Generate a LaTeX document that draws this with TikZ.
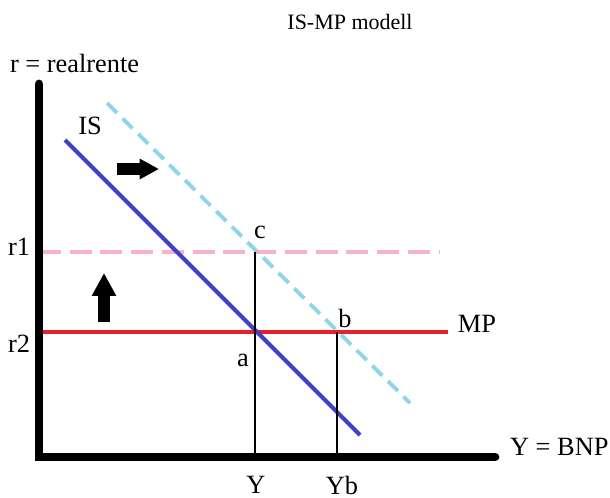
\documentclass[tikz,border=0pt]{standalone}
\usepackage{fontspec}
\setmainfont{Liberation Serif}
\usetikzlibrary{arrows.meta}
\definecolor{IScurve}{HTML}{4040C4}
\definecolor{ISnew}{HTML}{90D4E8}
\definecolor{MPline}{HTML}{E8202C}
\definecolor{MPnew}{HTML}{F8B0CC}

\begin{document}
\begin{tikzpicture}[x=0.02cm, y=-0.02cm,
    every node/.style={font=\fontsize{15}{17}\selectfont, inner sep=1pt},
    axis/.style={line width=5pt, line cap=round},
    guide/.style={line width=0.6pt},
    shiftarrow/.style={line width=6.4pt, -{Triangle[length=11pt, width=11pt]}}]
  \useasboundingbox (0,0) rectangle (610,498);
  % points
  \coordinate (o) at (39,457);
  \coordinate (ytop) at (39,84);
  \coordinate (xend) at (495,457);
  \coordinate (is1) at (65,140);   \coordinate (is2) at (360,435);
  \coordinate (isb1) at (107,103); \coordinate (isb2) at (410,403);
  \coordinate (r1l) at (39,252);   \coordinate (r1r) at (440,252);
  \coordinate (r2l) at (39,332);   \coordinate (r2r) at (448,332);
  \coordinate (pa) at (255,332);   \coordinate (pc) at (255,252);
  \coordinate (pb) at (337,332);
  \coordinate (ya) at (255,457);   \coordinate (yb) at (337,457);
  % curves
  \draw[MPnew, line width=2.2pt, dash pattern=on 12.5pt off 5pt] (r1l) -- (r1r);
  \draw[ISnew, line width=2.2pt, dash pattern=on 8pt off 4.5pt] (isb1) -- (isb2);
  \draw[MPline, line width=2.4pt] (r2l) -- (r2r);
  \draw[IScurve, line width=2.4pt] (is1) -- (is2);
  \draw[guide] (pc) -- (ya);
  \draw[guide] (pb) -- (yb);
  \draw[axis] (ytop) -- (o) -- (xend);
  % shift arrows
  \coordinate (ra1) at (117,169); \coordinate (ra2) at (159,169);
  \coordinate (ua1) at (104,322); \coordinate (ua2) at (104,273);
  \draw[shiftarrow] (ra1) -- (ra2);
  \draw[shiftarrow, line width=6.8pt, -{Triangle[length=13pt, width=13pt]}] (ua1) -- (ua2);
  % labels
  \node (title) at (350,22) {\fontsize{12.5}{14}\selectfont IS-MP modell};
  \node[anchor=west] (rlab) at (8,63) {r = realrente};
  \node[anchor=west] (ylab) at (508,447) {Y = BNP};
  \node (islab) at (90,126) {IS};
  \node (mplab) at (477,324) {MP};
  \node (r1) at (19,247) {r1};
  \node (r2) at (19,344) {r2};
  \node (clab) at (260,232) {c};
  \node (blab) at (345,318) {b};
  \node (alab) at (243,360) {a};
  \node[inner sep=0pt] (ylab1) at (256,485) {Y};
  \node[inner sep=0pt] (ylab2) at (342,485) {Yb};
\end{tikzpicture}
\end{document}
